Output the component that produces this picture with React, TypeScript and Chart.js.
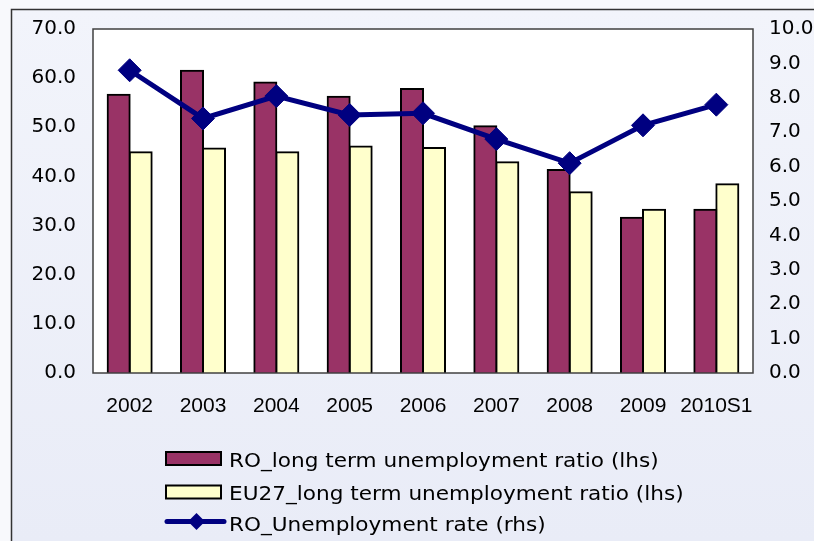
import React, { useEffect, useRef } from "react";
import { Chart, registerables } from "chart.js";

Chart.register(...registerables);

const categories = ["2002", "2003", "2004", "2005", "2006", "2007", "2008", "2009", "2010S1"];
const roLongTerm = [56.6, 61.5, 59.1, 56.2, 57.8, 50.2, 41.3, 31.6, 33.2];
const eu27LongTerm = [44.9, 45.7, 44.9, 46.1, 45.8, 42.9, 36.8, 33.2, 38.4];
const roUnemployment = [8.8, 7.4, 8.05, 7.5, 7.55, 6.8, 6.1, 7.2, 7.8];

const leftTicks = [0, 10, 20, 30, 40, 50, 60, 70];
const rightTicks = [0, 1, 2, 3, 4, 5, 6, 7, 8, 9, 10];

const XFONT = "'Liberation Sans', Arial, sans-serif";
const WIDE = "'DejaVu Sans', Verdana, sans-serif";

const framePlugin = {
  id: "framePlugin",
  beforeDraw(chart: any) {
    const { ctx, width, height, chartArea } = chart;
    ctx.save();
    ctx.fillStyle = "#f8f9fc";
    ctx.fillRect(0, 0, width, height);
    const g = ctx.createLinearGradient(0, 9, 0, height);
    g.addColorStop(0, "#f2f4fb");
    g.addColorStop(1, "#e9ecf7");
    ctx.fillStyle = g;
    ctx.fillRect(11, 9, width, height);
    ctx.strokeStyle = "#333333";
    ctx.lineWidth = 1.5;
    ctx.strokeRect(11.5, 9.5, width + 10, height + 10);
    ctx.fillStyle = "#ffffff";
    ctx.fillRect(chartArea.left, chartArea.top, chartArea.right - chartArea.left, chartArea.bottom - chartArea.top);
    ctx.restore();
  },
  afterDatasetsDraw(chart: any) {
    const { ctx, chartArea } = chart;
    ctx.save();
    ctx.strokeStyle = "#404040";
    ctx.lineWidth = 1.5;
    ctx.strokeRect(chartArea.left, chartArea.top, chartArea.right - chartArea.left, chartArea.bottom - chartArea.top);
    ctx.restore();
  },
};

const legendPlugin = {
  id: "customLegend",
  afterDraw(chart: any) {
    const { ctx } = chart;
    const x0 = 166;
    const rowY = [458.5, 492, 521.5];
    const baseY = [466.7, 500, 531.3];
    ctx.save();
    chart.data.datasets.forEach((ds: any, i: number) => {
      const y = rowY[i];
      if (ds.type === "line") {
        ctx.strokeStyle = ds.borderColor;
        ctx.lineWidth = 5;
        ctx.lineCap = "round";
        ctx.beginPath();
        ctx.moveTo(x0 + 1, y);
        ctx.lineTo(x0 + 58, y);
        ctx.stroke();
        ctx.fillStyle = ds.borderColor;
        const r = 8.5;
        const cx = x0 + 30.5;
        ctx.beginPath();
        ctx.moveTo(cx, y - r);
        ctx.lineTo(cx + r, y);
        ctx.lineTo(cx, y + r);
        ctx.lineTo(cx - r, y);
        ctx.closePath();
        ctx.fill();
      } else {
        ctx.fillStyle = ds.backgroundColor;
        ctx.fillRect(x0, y - 6.5, 55, 13);
        ctx.strokeStyle = "#000000";
        ctx.lineWidth = 2;
        ctx.strokeRect(x0, y - 6.5, 55, 13);
      }
      ctx.fillStyle = "#000000";
      ctx.font = "20px " + WIDE;
      ctx.textAlign = "left";
      ctx.textBaseline = "alphabetic";
      ctx.save();
      ctx.translate(229, baseY[i]);
      ctx.scale(1.08, 1);
      ctx.fillText(ds.label, 0, 0);
      ctx.restore();
    });
    ctx.restore();
  },
};

export default function App() {
  const ref = useRef<HTMLCanvasElement>(null);
  useEffect(() => {
    if (!ref.current) return;
    const chart = new Chart(ref.current, {
      type: "bar",
      data: {
        labels: categories,
        datasets: [
          {
            type: "bar",
            label: "RO_long term unemployment ratio (lhs)",
            data: roLongTerm,
            backgroundColor: "#993366",
            borderColor: "#000000",
            borderWidth: 2,
            inflateAmount: 1,
            yAxisID: "y",
            order: 2,
          } as any,
          {
            type: "bar",
            label: "EU27_long term unemployment ratio (lhs)",
            data: eu27LongTerm,
            backgroundColor: "#ffffcc",
            borderColor: "#000000",
            borderWidth: 2,
            inflateAmount: 1,
            yAxisID: "y",
            order: 2,
          },
          {
            type: "line",
            label: "RO_Unemployment rate (rhs)",
            data: roUnemployment,
            borderColor: "#000080",
            backgroundColor: "#000080",
            borderWidth: 5,
            pointStyle: "rectRot",
            pointRadius: 11.5,
            pointBorderWidth: 1,
            pointBackgroundColor: "#000080",
            pointBorderColor: "#000080",
            yAxisID: "y1",
            order: 1,
          },
        ],
      },
      options: {
        animation: false,
        responsive: false,
        maintainAspectRatio: false,
        layout: { padding: { top: 27, left: 0, right: 0, bottom: 0 } },
        datasets: { bar: { categoryPercentage: 0.6, barPercentage: 1.0 } },
        plugins: { legend: { display: false }, tooltip: { enabled: false } },
        scales: {
          x: {
            grid: { display: false, drawTicks: false },
            border: { display: false },
            ticks: { color: "#000", font: { family: XFONT, size: 21 }, padding: 21, autoSkip: false, maxRotation: 0 },
            afterFit(scale: any) { scale.height = 168; },
          },
          y: {
            position: "left",
            min: 0,
            max: 70,
            afterBuildTicks(scale: any) { scale.ticks = leftTicks.map((v) => ({ value: v })); },
            grid: { display: false, drawTicks: false },
            border: { display: false },
            ticks: { color: "#000", font: { family: WIDE, size: 20 }, padding: 17, callback: (v: any) => Number(v).toFixed(1) },
            afterFit(scale: any) { scale.width = 93; },
          },
          y1: {
            position: "right",
            min: 0,
            max: 10,
            afterBuildTicks(scale: any) { scale.ticks = rightTicks.map((v) => ({ value: v })); },
            grid: { display: false, drawTicks: false },
            border: { display: false },
            ticks: { color: "#000", font: { family: WIDE, size: 20 }, padding: 16, callback: (v: any) => Number(v).toFixed(1) },
            afterFit(scale: any) { scale.width = 61; },
          },
        },
      },
      plugins: [framePlugin, legendPlugin],
    });
    return () => chart.destroy();
  }, []);
  return (
    <div style={{ position: "fixed", left: 0, top: 0, width: 814, height: 541 }}>
      <canvas ref={ref} width={814} height={541} style={{ width: 814, height: 541 }} />
    </div>
  );
}
